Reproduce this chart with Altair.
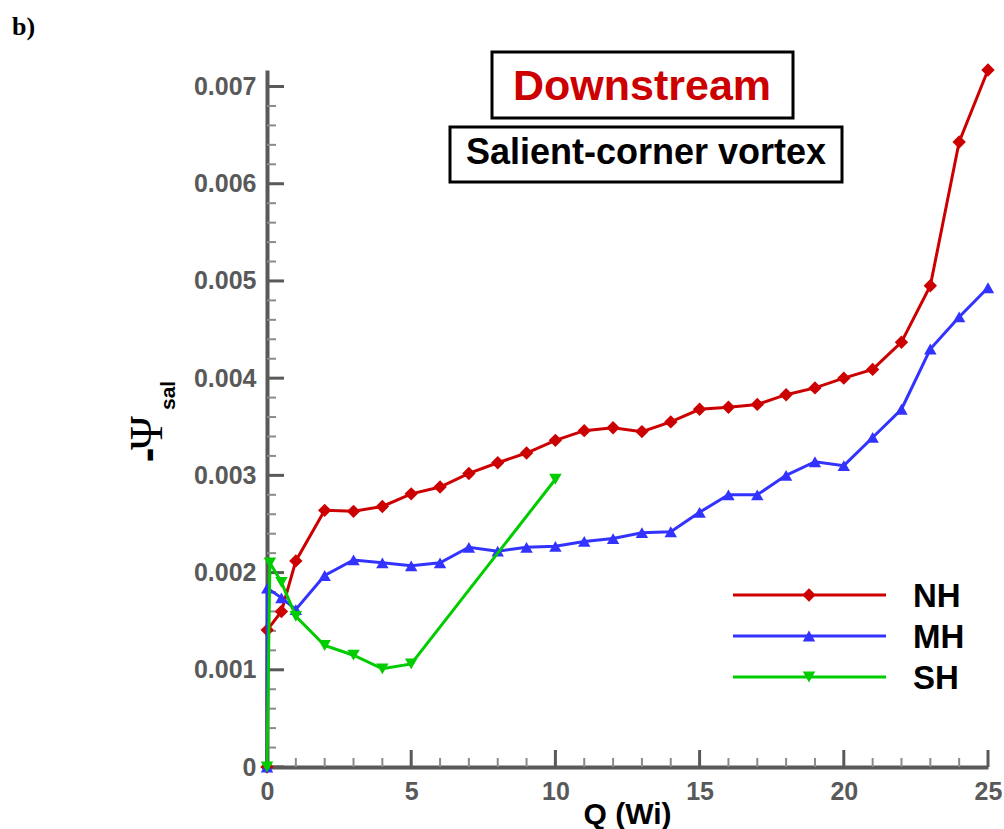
import altair as alt
import pandas as pd

# ---- series ----
series_names = ["NH", "MH", "SH"]
series_colors = ["#cc0000", "#3333ff", "#00cc00"]
series_shapes = ["diamond", "triangle-up", "triangle-down"]

nh_q = [0, 0.01, 0.5, 1, 2, 3, 4, 5, 6, 7, 8, 9, 10, 11, 12, 13, 14, 15,
        16, 17, 18, 19, 20, 21, 22, 23, 24, 25]
nh_psi = [0, 0.00141, 0.0016, 0.00212, 0.00264, 0.00263, 0.00268, 0.00281,
          0.00288, 0.00302, 0.00313, 0.00323, 0.00336, 0.00346, 0.00349,
          0.00345, 0.00355, 0.00368, 0.0037, 0.00373, 0.00383, 0.0039,
          0.004, 0.00409, 0.00437, 0.00495, 0.00643, 0.00717]

mh_q = [0, 0.01, 0.5, 1, 2, 3, 4, 5, 6, 7, 8, 9, 10, 11, 12, 13, 14, 15,
        16, 17, 18, 19, 20, 21, 22, 23, 24, 25]
mh_psi = [0, 0.00184, 0.00174, 0.00162, 0.00197, 0.00213, 0.0021, 0.00207,
          0.0021, 0.00226, 0.00222, 0.00226, 0.00227, 0.00232, 0.00235,
          0.00241, 0.00242, 0.00262, 0.0028, 0.0028, 0.003, 0.00314,
          0.0031, 0.00339, 0.00368, 0.0043, 0.00463, 0.00493]

sh_q = [0, 0.1, 0.5, 1, 2, 3, 4, 5, 10]
sh_psi = [0, 0.0021, 0.0019, 0.00155, 0.00125, 0.00115, 0.00101, 0.00106,
          0.00296]

# ---- axis ticks ----
x_major = [0, 5, 10, 15, 20, 25]
x_minor = [1, 2, 3, 4, 6, 7, 8, 9, 11, 12, 13, 14, 16, 17, 18, 19,
           21, 22, 23, 24]
y_major = [0, 0.001, 0.002, 0.003, 0.004, 0.005, 0.006, 0.007]
y_minor = [0.0002, 0.0004, 0.0006, 0.0008, 0.0012, 0.0014, 0.0016, 0.0018,
           0.0022, 0.0024, 0.0026, 0.0028, 0.0032, 0.0034, 0.0036, 0.0038,
           0.0042, 0.0044, 0.0046, 0.0048, 0.0052, 0.0054, 0.0056, 0.0058,
           0.0062, 0.0064, 0.0066, 0.0068]

W, H = 721, 697
AXIS_GRAY = "#595959"
SANS = "Liberation Sans"

frames = []
for name, q, psi in [("NH", nh_q, nh_psi), ("MH", mh_q, mh_psi), ("SH", sh_q, sh_psi)]:
    frames.append(pd.DataFrame({"series": name, "Q": q, "psi": psi, "order": range(len(q))}))
data = pd.concat(frames, ignore_index=True)

xscale = alt.Scale(domain=[0, 25], nice=False, zero=False)
yscale = alt.Scale(domain=[0, 0.00717], nice=False, zero=False)
cscale = alt.Scale(domain=series_names, range=series_colors)
sscale = alt.Scale(domain=series_names, range=series_shapes)

x_axis = alt.Axis(values=x_major, title=None, grid=False, ticks=False,
                  domainColor=AXIS_GRAY, domainWidth=4, labelColor=AXIS_GRAY,
                  labelFont=SANS, labelFontWeight="bold", labelFontSize=25,
                  labelPadding=12, labelOverlap=False, labelFlush=False)
y_axis = alt.Axis(values=y_major, title=None, grid=False, ticks=False,
                  domainColor=AXIS_GRAY, domainWidth=4, labelColor=AXIS_GRAY,
                  labelFont=SANS, labelFontWeight="bold", labelFontSize=25,
                  labelPadding=11, labelOverlap=False, labelFlush=False,
                  labelExpr="datum.value == 0 ? '0' : format(datum.value, '.3f')")

base = alt.Chart(data).encode(
    x=alt.X("Q:Q", scale=xscale, axis=x_axis),
    y=alt.Y("psi:Q", scale=yscale, axis=y_axis),
    color=alt.Color("series:N", scale=cscale, legend=None),
    order="order:Q",
)

series_layers = []
for name, shp in zip(series_names, series_shapes):
    sub = base.transform_filter(alt.datum.series == name)
    series_layers.append(sub.mark_line(strokeWidth=3))
    series_layers.append(
        sub.mark_point(filled=True, opacity=1, size=180 if shp == "diamond" else 155)
        .encode(shape=alt.Shape("series:N", scale=sscale, legend=None))
    )

# inward ticks, drawn through the same scales as the data
def xticks(vals, length, width, color):
    return alt.Chart(pd.DataFrame({"Q": vals})).mark_rule(
        strokeWidth=width, color=color).encode(
        x=alt.X("Q:Q", scale=xscale, axis=x_axis),
        y=alt.value(H), y2=alt.value(H - length))

def yticks(vals, length, width, color):
    return alt.Chart(pd.DataFrame({"psi": vals})).mark_rule(
        strokeWidth=width, color=color).encode(
        y=alt.Y("psi:Q", scale=yscale, axis=y_axis),
        x=alt.value(0), x2=alt.value(length))

tick_layers = [
    xticks(x_minor, 9, 2, "#8a8a8a"),
    xticks(x_major, 17, 3, AXIS_GRAY),
    yticks(y_minor, 9, 2, "#8a8a8a"),
    yticks(y_major, 17, 3, AXIS_GRAY),
]

one = pd.DataFrame({"k": [0]})

def box(x1, x2, y1, y2):
    return alt.Chart(one).mark_rect(fill="white", stroke="black", strokeWidth=3).encode(
        x=alt.value(x1), x2=alt.value(x2), y=alt.value(y1), y2=alt.value(y2))

def label(text, x, y, **kw):
    return alt.Chart(one).mark_text(text=text, **kw).encode(x=alt.value(x), y=alt.value(y))

annotations = [
    box(225, 526, -18, 48),
    label("Downstream", 375, 30, font=SANS, fontSize=43, fontWeight="bold",
          color="#cc0000", align="center", baseline="alphabetic"),
    box(183, 575, 57, 112),
    label("Salient-corner vortex", 379, 94, font=SANS, fontSize=36, fontWeight="bold",
          color="black", align="center", baseline="alphabetic"),
    label("b)", -255, -35, font="Liberation Serif", fontSize=26, fontWeight="bold",
          color="black", align="left", baseline="alphabetic"),
    # y-axis title: -Ψ with subscript "sal"
    label("-", -105, 385, font=SANS, fontSize=44, fontWeight="bold", color="black",
          angle=270, align="center", baseline="alphabetic"),
    label("Ψ", -105, 363, font="Liberation Serif", fontSize=46, color="black",
          angle=270, align="center", baseline="alphabetic"),
    label("sal", -92, 340, font=SANS, fontSize=21, fontWeight="bold", color="black",
          angle=270, align="left", baseline="alphabetic"),
    # x-axis title
    label("Q (Wi)", W / 2, 754, font=SANS, fontSize=30, fontWeight="bold",
          color="black", align="center", baseline="alphabetic"),
]

# legend
legend_layers = []
for i, (name, col, shp) in enumerate(zip(series_names, series_colors, series_shapes)):
    ly = 525 + 41 * i
    legend_layers.append(alt.Chart(one).mark_rule(color=col, strokeWidth=3).encode(
        x=alt.value(466), x2=alt.value(619), y=alt.value(ly)))
    legend_layers.append(alt.Chart(one).mark_point(
        shape=shp, filled=True, opacity=1, color=col,
        size=180 if shp == "diamond" else 155).encode(
        x=alt.value(542), y=alt.value(ly)))
    legend_layers.append(label(name, 646, ly + 12, font=SANS, fontSize=33,
                               fontWeight="bold", color="black", align="left",
                               baseline="alphabetic"))

chart = alt.layer(*tick_layers, *series_layers, *annotations, *legend_layers).properties(
    width=W, height=H,
    padding={"left": 267, "top": 70, "right": 16, "bottom": 62},
    autosize=alt.AutoSizeParams(type="none"),
    background="white",
).configure_view(strokeWidth=0)

chart.save("out.html", embed_options={"renderer": "svg", "actions": False})
